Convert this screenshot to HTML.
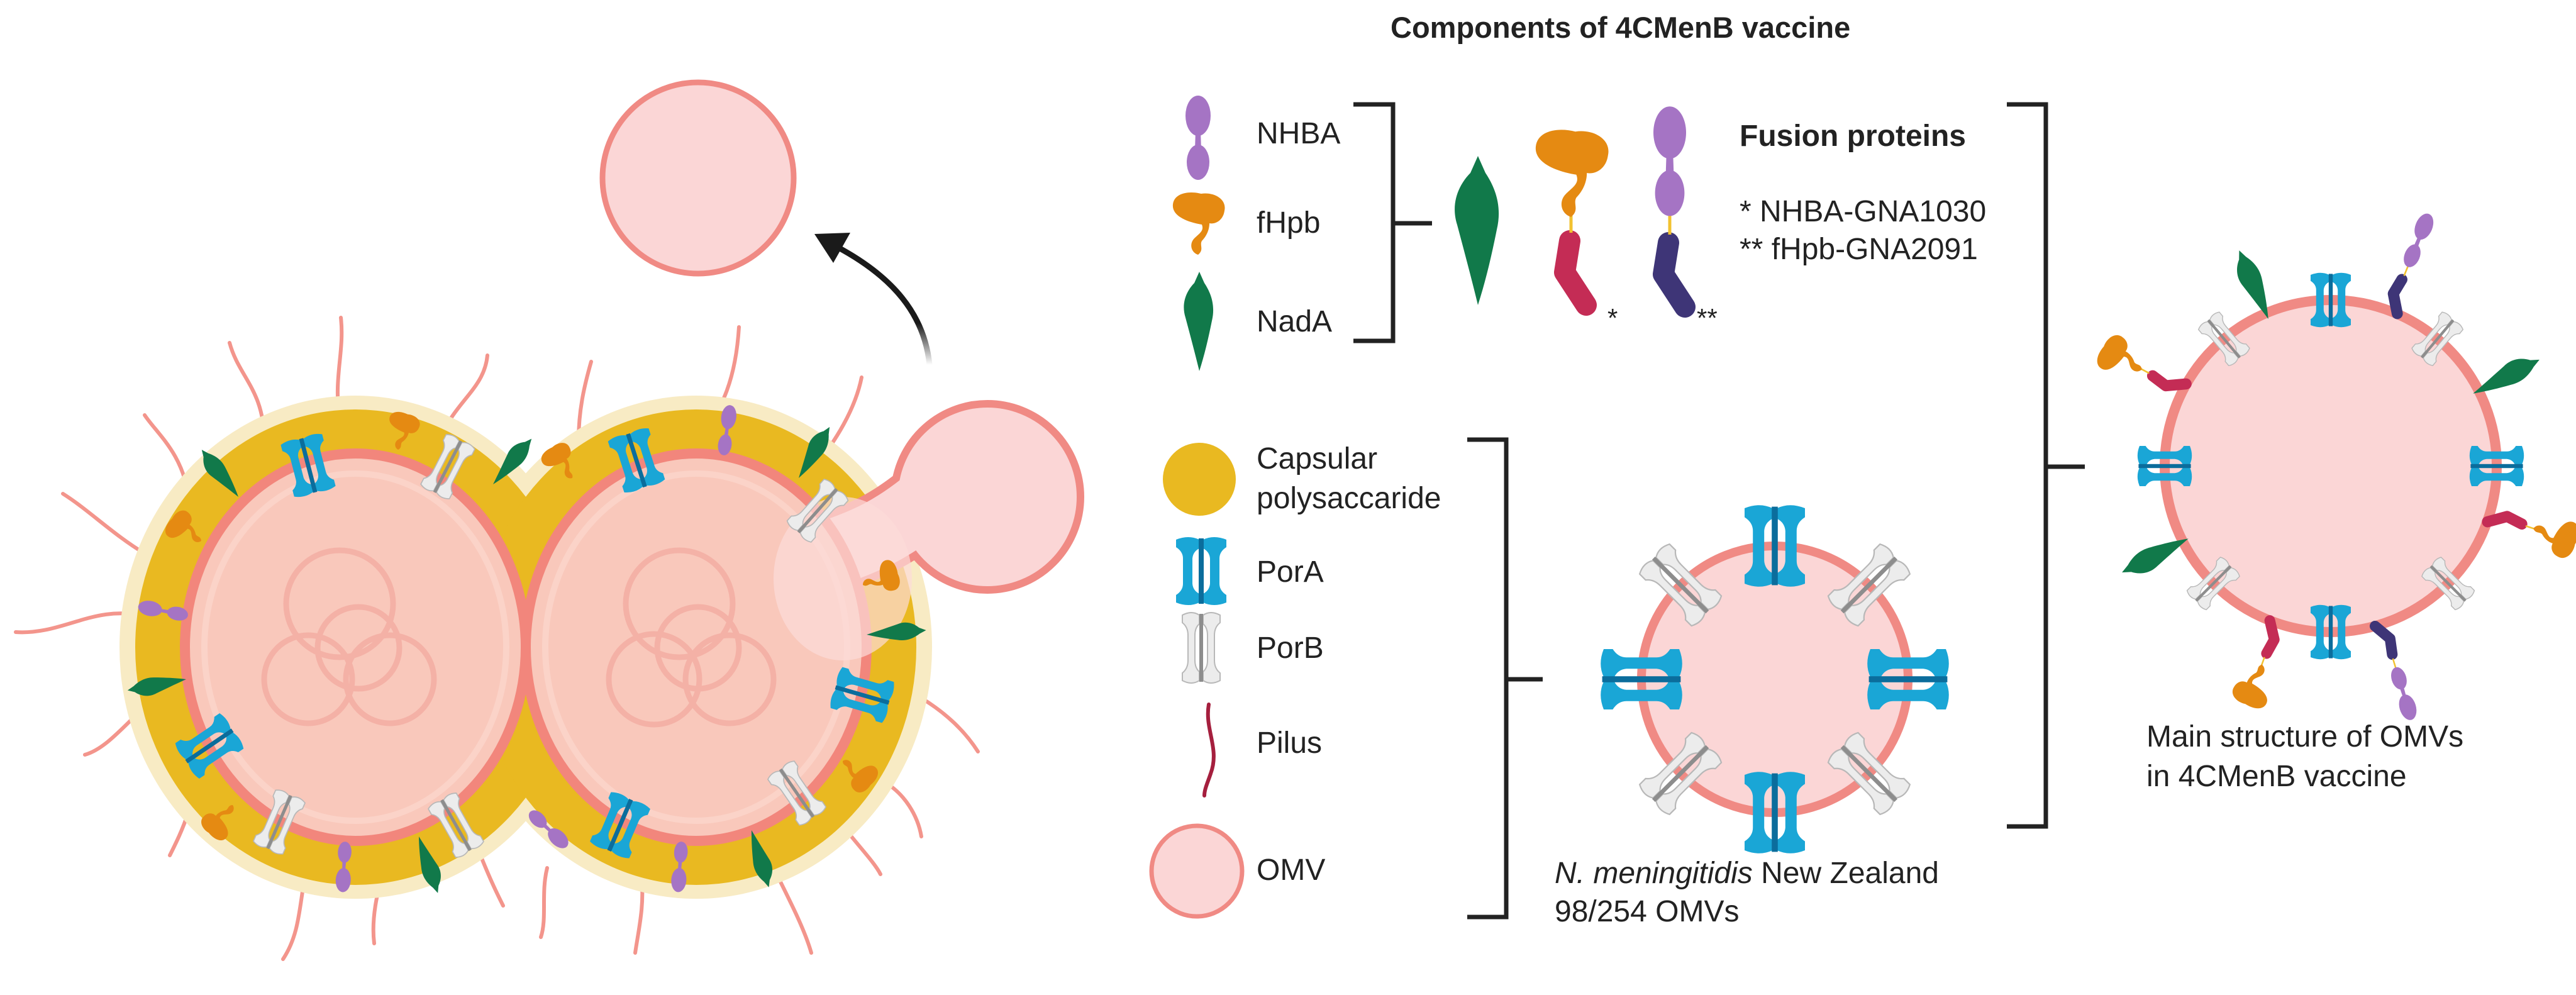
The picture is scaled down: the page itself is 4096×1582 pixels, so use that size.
<!DOCTYPE html>
<html><head><meta charset="utf-8"><style>
html,body{margin:0;padding:0;background:#fff}
svg{display:block}
text{font-family:"Liberation Sans",sans-serif;fill:#222}
</style></head><body>
<svg id="s" width="4096" height="1582" viewBox="0 0 4096 1582" xmlns="http://www.w3.org/2000/svg">
<defs>
<g id="porA">
 <path fill="#1aa6d6" d="M-40,-50 Q-20,-58 -3,-50 L-3,-36 Q-13,-31 -14,-20 L-14,20 Q-13,31 -3,36 L-3,50 Q-20,58 -40,50 L-40,38 Q-29,31 -29,20 L-29,-20 Q-29,-31 -40,-38 Z"/>
 <path fill="#1aa6d6" transform="scale(-1,1)" d="M-40,-50 Q-20,-58 -3,-50 L-3,-36 Q-13,-31 -14,-20 L-14,20 Q-13,31 -3,36 L-3,50 Q-20,58 -40,50 L-40,38 Q-29,31 -29,20 L-29,-20 Q-29,-31 -40,-38 Z"/>
 <rect x="-4" y="-52" width="8" height="104" fill="#0b6d9c"/>
</g>
<g id="porB">
 <path fill="#ececec" stroke="#b8b8b8" stroke-width="2" d="M-30,-52 Q-15,-60 -3,-52 L-3,-38 Q-10,-32 -10,-20 L-10,20 Q-10,32 -3,38 L-3,52 Q-15,60 -30,52 L-30,40 Q-21,33 -21,20 L-21,-20 Q-21,-33 -30,-40 Z"/>
 <path fill="#ececec" stroke="#b8b8b8" stroke-width="2" transform="scale(-1,1)" d="M-30,-52 Q-15,-60 -3,-52 L-3,-38 Q-10,-32 -10,-20 L-10,20 Q-10,32 -3,38 L-3,52 Q-15,60 -30,52 L-30,40 Q-21,33 -21,20 L-21,-20 Q-21,-33 -30,-40 Z"/>
 <rect x="-3" y="-54" width="6" height="108" fill="#8d8d8d"/>
</g>
<g id="nhba" fill="#a574c4">
 <ellipse cx="0" cy="-30" rx="18" ry="28"/>
 <path d="M-5,-50 L-4,-80 L4,-80 L5,-50Z"/>
 <ellipse cx="0" cy="-104" rx="20" ry="32"/>
</g>
<g id="nada" fill="#11794a">
 <path d="M0,0 C-6,-25 -14,-55 -22,-85 C-30,-110 -18,-130 -8,-140 L0,-158 L8,-140 C18,-125 26,-105 20,-80 C14,-50 8,-25 0,0Z"/>
</g>
<g id="fhbp" fill="#e58a12">
 <path d="M0,0 C-12,-4 -14,-18 -6,-26 C2,-34 10,-38 6,-48 C-18,-52 -42,-62 -40,-80 C-38,-98 -15,-102 5,-97 C26,-100 46,-88 42,-70 C40,-55 28,-48 18,-50 C18,-38 12,-28 6,-22 C2,-15 10,-8 0,0Z"/>
</g>
<g id="redL"><path d="M-12,-122 L-20,-72 L14,-20" fill="none" stroke="#c42c55" stroke-width="34" stroke-linecap="round" stroke-linejoin="round"/></g>
<g id="blueL"><path d="M-12,-122 L-20,-72 L14,-20" fill="none" stroke="#3e3577" stroke-width="34" stroke-linecap="round" stroke-linejoin="round"/></g>
<g id="fusR"><use href="#redL"/><line x1="-10" y1="-135" x2="-10" y2="-165" stroke="#f2c230" stroke-width="5"/><use href="#fhbp" transform="translate(-10,-160) scale(1.4)"/></g>
<g id="fusB"><use href="#blueL"/><line x1="-10" y1="-135" x2="-10" y2="-165" stroke="#f2c230" stroke-width="5"/><use href="#nhba" transform="translate(-10,-162) scale(1.3)"/></g>
<linearGradient id="ag" x1="0" y1="1" x2="0" y2="0"><stop offset="0" stop-color="#1a1a1a" stop-opacity="0"/><stop offset="0.35" stop-color="#1a1a1a"/></linearGradient>
</defs>

<!-- top OMV -->
<circle cx="1110" cy="283" r="152" fill="#fbd6d6" stroke="#f08a84" stroke-width="9"/>
<!-- arrow -->
<path d="M1478,580 C1470,500 1420,440 1330,392" fill="none" stroke="url(#ag)" stroke-width="9" stroke-linecap="round"/>
<path d="M1295,372 L1352,370 L1325,418 Z" fill="#1a1a1a"/>

<!-- pili -->
<g fill="none" stroke="#f3958c" stroke-width="6" stroke-linecap="round">
<path d="M420,700 C420,620 380,600 365,545"/>
<path d="M540,665 C530,600 548,560 542,505"/>
<path d="M700,700 C720,640 770,620 775,565"/>
<path d="M300,790 C290,720 250,690 230,660"/>
<path d="M230,880 C180,850 140,810 100,785"/>
<path d="M230,980 C150,960 100,1010 25,1005"/>
<path d="M240,1115 C200,1150 170,1190 135,1200"/>
<path d="M300,1290 C290,1320 280,1340 270,1360"/>
<path d="M490,1370 C475,1430 480,1480 450,1525"/>
<path d="M610,1380 C600,1420 590,1460 595,1500"/>
<path d="M760,1350 C780,1400 790,1420 800,1440"/>
<path d="M920,700 C920,650 930,610 940,575"/>
<path d="M1110,700 C1150,650 1170,600 1175,520"/>
<path d="M1290,750 C1330,700 1360,650 1370,600"/>
<path d="M1400,1080 C1460,1100 1520,1140 1555,1195"/>
<path d="M1400,1240 C1440,1260 1460,1300 1465,1330"/>
<path d="M870,1380 C860,1420 870,1460 860,1490"/>
<path d="M1020,1395 C1025,1440 1015,1480 1010,1515"/>
<path d="M1230,1380 C1260,1440 1280,1480 1290,1515"/>
<path d="M1330,1300 C1360,1340 1390,1370 1400,1390"/>
</g>

<!-- capsule -->
<ellipse cx="565" cy="1029" rx="375" ry="400" fill="#f8ebc4"/>
<ellipse cx="1107" cy="1029" rx="375" ry="400" fill="#f8ebc4"/>
<ellipse cx="565" cy="1029" rx="350" ry="378" fill="#e9b921"/>
<ellipse cx="1107" cy="1029" rx="350" ry="378" fill="#e9b921"/>

<!-- bleb -->
<path d="M1320,880 C1380,860 1420,840 1470,800" fill="none" stroke="#f08a84" stroke-width="130" stroke-linecap="round"/>
<circle cx="1570" cy="790" r="148" fill="#fbd6d6" stroke="#f08a84" stroke-width="12"/>
<path d="M1320,880 C1380,860 1420,840 1470,800" fill="none" stroke="#fbd6d6" stroke-width="106" stroke-linecap="round"/>

<!-- cells -->
<ellipse cx="565" cy="1029" rx="271" ry="308" fill="#f9c8bb" stroke="#f2867c" stroke-width="16"/>
<ellipse cx="1107" cy="1029" rx="271" ry="308" fill="#f9c8bb" stroke="#f2867c" stroke-width="16"/>
<ellipse cx="565" cy="1029" rx="240" ry="276" fill="none" stroke="#fbd3c8" stroke-width="10"/>
<ellipse cx="1107" cy="1029" rx="240" ry="276" fill="none" stroke="#fbd3c8" stroke-width="10"/>
<g fill="none" stroke="#f3aca2" stroke-width="9" opacity="0.8">
<circle cx="540" cy="960" r="85"/><circle cx="570" cy="1030" r="65"/><circle cx="490" cy="1080" r="70"/><circle cx="620" cy="1080" r="70"/>
<circle cx="1080" cy="960" r="85"/><circle cx="1110" cy="1030" r="65"/><circle cx="1040" cy="1080" r="72"/><circle cx="1160" cy="1080" r="70"/>
</g>
<ellipse cx="1340" cy="920" rx="110" ry="130" fill="#fcdcd8" opacity="0.7"/>

<g id="prot"></g>

<!-- legend -->
<g font-size="48">
<use href="#nhba" transform="translate(1905,288) scale(1)"/>
<text x="1998" y="228">NHBA</text>
<use href="#fhbp" transform="translate(1905,405) scale(1.0)"/>
<text x="1998" y="370">fHpb</text>
<use href="#nada" transform="translate(1907,590) scale(1)"/>
<text x="1998" y="527">NadA</text>
<circle cx="1907" cy="762" r="58" fill="#e9b921"/>
<text x="1998" y="745">Capsular</text>
<text x="1998" y="808">polysaccaride</text>
<use href="#porA" transform="translate(1910,908)"/>
<text x="1998" y="925">PorA</text>
<use href="#porB" transform="translate(1910,1030)"/>
<text x="1998" y="1046">PorB</text>
<path d="M1922,1120 C1915,1160 1940,1190 1925,1230 C1920,1245 1915,1255 1915,1265" fill="none" stroke="#a51f3e" stroke-width="6" stroke-linecap="round"/>
<text x="1998" y="1197">Pilus</text>
<circle cx="1903" cy="1385" r="72" fill="#fbd6d6" stroke="#f08a84" stroke-width="7"/>
<text x="1998" y="1399">OMV</text>
</g>

<text x="2211" y="60" font-size="47" font-weight="bold">Components of 4CMenB vaccine</text>

<g fill="none" stroke="#222" stroke-width="7">
<path d="M2152,166 H2215 V542 H2152 M2215,355 H2277"/>
<path d="M2333,699 H2395 V1458 H2333 M2395,1080 H2453"/>
<path d="M3191,166 H3253 V1314 H3191 M3253,742 H3315"/>
</g>

<use href="#nada" transform="translate(2350,485) scale(1.5)"/>
<use href="#fusR" transform="translate(2508,505) scale(1)"/>
<use href="#fusB" transform="translate(2665,508) scale(1)"/>
<text x="2556" y="520" font-size="42">*</text>
<text x="2698" y="520" font-size="42">**</text>
<text x="2766" y="232" font-size="48" font-weight="bold">Fusion proteins</text>
<text x="2766" y="352" font-size="48">*  NHBA-GNA1030</text>
<text x="2766" y="412" font-size="48">** fHpb-GNA2091</text>

<!-- NZ OMV -->
<circle cx="2822" cy="1080" r="212" fill="#fbd6d6" stroke="#f08a84" stroke-width="14"/>
<g id="nz"></g>
<text x="2472" y="1404" font-size="48"><tspan font-style="italic">N. meningitidis</tspan> New Zealand</text>
<text x="2472" y="1465" font-size="48">98/254 OMVs</text>

<!-- big OMV -->
<circle cx="3706" cy="741" r="264" fill="#fbd6d6" stroke="#f08a84" stroke-width="16"/>
<g id="big"></g>
<text x="3413" y="1187" font-size="48">Main structure of OMVs</text>
<text x="3413" y="1250" font-size="48">in 4CMenB vaccine</text>
</svg>
<script>
var NS="http://www.w3.org/2000/svg";
function put(g,id,x,y,cx,cy,s,da){
 var a=Math.atan2(x-cx,-(y-cy))*180/Math.PI+(da||0);
 var u=document.createElementNS(NS,"use");
 u.setAttribute("href","#"+id);
 u.setAttribute("transform","translate("+x+","+y+") rotate("+a+") scale("+s+")");
 g.appendChild(u);
}
var p=document.getElementById("prot");
var L=[565,1029],R=[1107,1029];
var lc=[["nada",379,790],["porA",490,740],["fhbp",633,715],["porB",712,742],["nada",784,770],["fhbp",320,860],["nhba",300,979],["nada",296,1080],["porA",333,1186],["fhbp",370,1280],["porB",444,1307],["nhba",549,1337],["nada",666,1330],["porB",725,1312],["nhba",842,1290]];
lc.forEach(function(d){var s=d[0]=="porA"||d[0]=="porB"?0.85:0.6;put(p,d[0],d[1],d[2],L[0],L[1],s);});
var rc=[["fhbp",910,760],["porA",1012,732],["nhba",1150,725],["nada",1270,760],["porB",1300,812],["fhbp",1372,930],["nada",1378,1009],["porA",1371,1105],["fhbp",1340,1210],["porB",1267,1261],["nada",1195,1320],["nhba",1084,1337],["porA",986,1312]];
rc.forEach(function(d){var s=d[0]=="porA"||d[0]=="porB"?0.85:0.6;put(p,d[0],d[1],d[2],R[0],R[1],s);});
var nz=document.getElementById("nz");
for(var i=0;i<8;i++){var t=i*Math.PI/4;var x=2822+212*Math.sin(t),y=1080-212*Math.cos(t);put(nz,i%2?"porB":"porA",x,y,2822,1080,i%2?1.12:1.2);}
var b=document.getElementById("big"),C=[3706,741],r=264;
function at(deg,id,s,off){var t=deg*Math.PI/180;var rr=r+(off||0);put(b,id,C[0]+rr*Math.sin(t),C[1]-rr*Math.cos(t),C[0],C[1],s);}
at(0,"porA",0.8);at(90,"porA",0.8);at(180,"porA",0.8);at(270,"porA",0.8);
at(-40,"porB",0.72);at(40,"porB",0.72);at(135,"porB",0.72);at(-135,"porB",0.72);
at(-23,"nada",0.75,-10);at(63,"nada",0.75,-10);at(-117,"nada",0.75,-10);
at(22,"fusB",0.52,-10);at(163,"fusB",0.5,-10);
at(-62,"fusR",0.52,-10);at(108,"fusR",0.52,-10);at(-160,"fusR",0.5,-10);
</script>
</body></html>
